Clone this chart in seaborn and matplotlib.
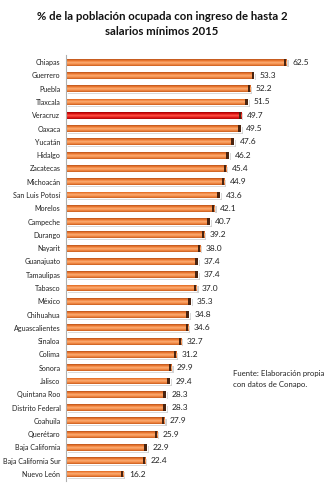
import numpy as np
import matplotlib
matplotlib.use("Agg")
import matplotlib.pyplot as plt
import seaborn as sns
from matplotlib.colors import LinearSegmentedColormap

states = ["Chiapas", "Guerrero", "Puebla", "Tlaxcala", "Veracruz", "Oaxaca", "Yucatán",
          "Hidalgo", "Zacatecas", "Michoacán", "San Luis Potosí", "Morelos", "Campeche",
          "Durango", "Nayarit", "Guanajuato", "Tamaulipas", "Tabasco", "México",
          "Chihuahua", "Aguascalientes", "Sinaloa", "Colima", "Sonora", "Jalisco",
          "Quintana Roo", "Distrito Federal", "Coahuila", "Querétaro", "Baja California",
          "Baja California Sur", "Nuevo León"]
values = [62.5, 53.3, 52.2, 51.5, 49.7, 49.5, 47.6, 46.2, 45.4, 44.9, 43.6, 42.1, 40.7,
          39.2, 38.0, 37.4, 37.4, 37.0, 35.3, 34.8, 34.6, 32.7, 31.2, 29.9, 29.4, 28.3,
          28.3, 27.9, 25.9, 22.9, 22.4, 16.2]
highlight = "Veracruz"

title = "% de la población ocupada con ingreso de hasta 2\nsalarios mínimos 2015"
source = "Fuente: Elaboración propia\ncon datos de Conapo."

sns.set_theme(style="white")
plt.rcParams["font.family"] = ["Lato", "DejaVu Sans"]

fig = plt.figure(figsize=(3.24, 4.91), dpi=100)
ax = fig.add_axes([0.2037, 0.021, 0.762, 0.866])

base_orange = "#F0843A"
base_red = "#E41212"
palette = [base_red if s == highlight else base_orange for s in states]

sns.barplot(x=values, y=states, hue=states, palette=palette, legend=False,
            orient="h", width=0.52, ax=ax, saturation=1)

# Cylinder-like shading on each bar, with a shadow and a dark end cap
orange_cmap = LinearSegmentedColormap.from_list(
    "cyl_o", ["#B8531C", "#F07A30", "#FBAE76", "#F58B45", "#C75C1F"])
red_cmap = LinearSegmentedColormap.from_list(
    "cyl_r", ["#A00000", "#E01010", "#FF5A4A", "#E81818", "#A80808"])
grad = np.linspace(0, 1, 64).reshape(-1, 1)
for patch, s in zip(ax.patches, states):
    x0, y0 = patch.get_x(), patch.get_y()
    w, h = patch.get_width(), patch.get_height()
    shadow = plt.Rectangle((x0 + 0.6, y0 + 0.12), w, h, color="#9a9a9a",
                           alpha=0.45, zorder=1, lw=0)
    ax.add_patch(shadow)
    cmap = red_cmap if s == highlight else orange_cmap
    im = ax.imshow(grad, cmap=cmap, aspect="auto",
                   extent=(x0, x0 + w, y0 + h, y0), zorder=2,
                   interpolation="bilinear")
    im.set_clip_path(patch)
    patch.set_zorder(2)
    cap = plt.Rectangle((x0 + w - 0.7, y0), 0.7, h, color="#4a2410", zorder=3, lw=0)
    ax.add_patch(cap)

for i, v in enumerate(values):
    ax.text(v + 1.6, i, f"{v:.1f}", va="center", ha="left", fontsize=6,
            color="#222222")

ax.set_xlim(0, 70)
ax.set_ylim(len(states) - 0.5, -0.5)
ax.set_xlabel("")
ax.set_ylabel("")
ax.set_xticks([])
ax.tick_params(axis="y", length=0, labelsize=5.1, pad=4, colors="#222222")
for side in ["top", "right", "bottom"]:
    ax.spines[side].set_visible(False)
ax.spines["left"].set_color("#b0b0b0")
ax.spines["left"].set_linewidth(0.8)

fig.text(0.5, 0.952, title, ha="center", va="center", fontsize=8.2,
         fontweight="bold", color="#111111", linespacing=1.45)
fig.text(0.72, 0.228, source, ha="left", va="center", fontsize=5.6,
         color="#222222", linespacing=1.55)

fig.savefig("out.png", dpi=100)
